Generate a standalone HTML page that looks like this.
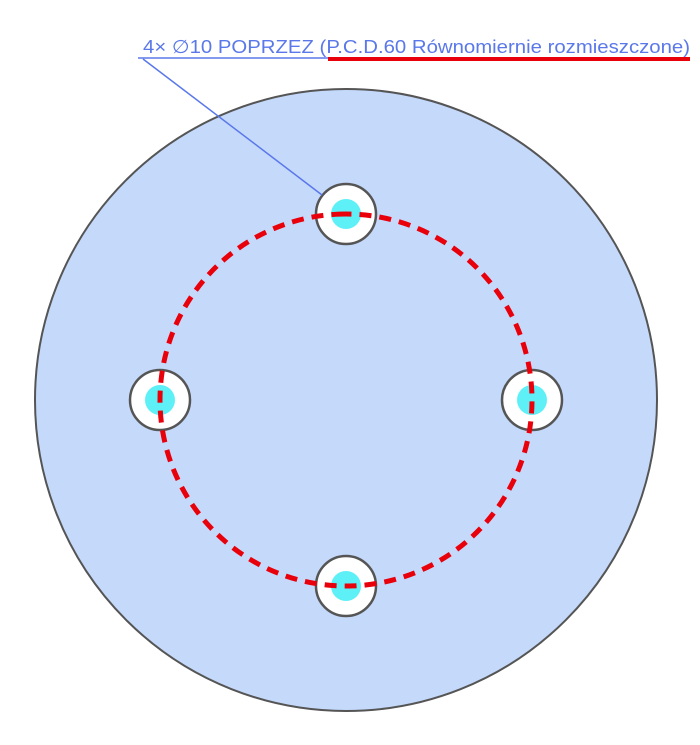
<!DOCTYPE html>
<html><head><style>html,body{margin:0;padding:0;background:#fff;}</style></head>
<body>
<svg width="700" height="740" viewBox="0 0 700 740" xmlns="http://www.w3.org/2000/svg">
<circle cx="346" cy="400" r="311" fill="#c5d9fb" stroke="#555" stroke-width="2"/>
<g fill="#fff" stroke="#555" stroke-width="2.5">
<circle cx="346" cy="214" r="30"/>
<circle cx="160" cy="400" r="30"/>
<circle cx="532" cy="400" r="30"/>
<circle cx="346" cy="586" r="30"/>
</g>
<g fill="#5ef0f7">
<circle cx="346" cy="214" r="15"/>
<circle cx="160" cy="400" r="15"/>
<circle cx="532" cy="400" r="15"/>
<circle cx="346" cy="586" r="15"/>
</g>
<circle cx="346" cy="400" r="186" fill="none" stroke="#e8000b" stroke-width="5" stroke-dasharray="12 8" transform="rotate(-92 346 400)"/>
<line x1="138" y1="58" x2="690" y2="58" stroke="#5a78ea" stroke-width="1.5"/>
<line x1="143" y1="59" x2="322" y2="195" stroke="#5a78ea" stroke-width="1.5"/>
<line x1="328" y1="59" x2="690" y2="59" stroke="#e8000b" stroke-width="4"/>
<text x="143" y="53" font-family="Liberation Sans, sans-serif" font-size="18.5" fill="#5a78ea" textLength="547" lengthAdjust="spacingAndGlyphs">4× ∅10 POPRZEZ (P.C.D.60 Równomiernie rozmieszczone)</text>
</svg>
</body></html>
